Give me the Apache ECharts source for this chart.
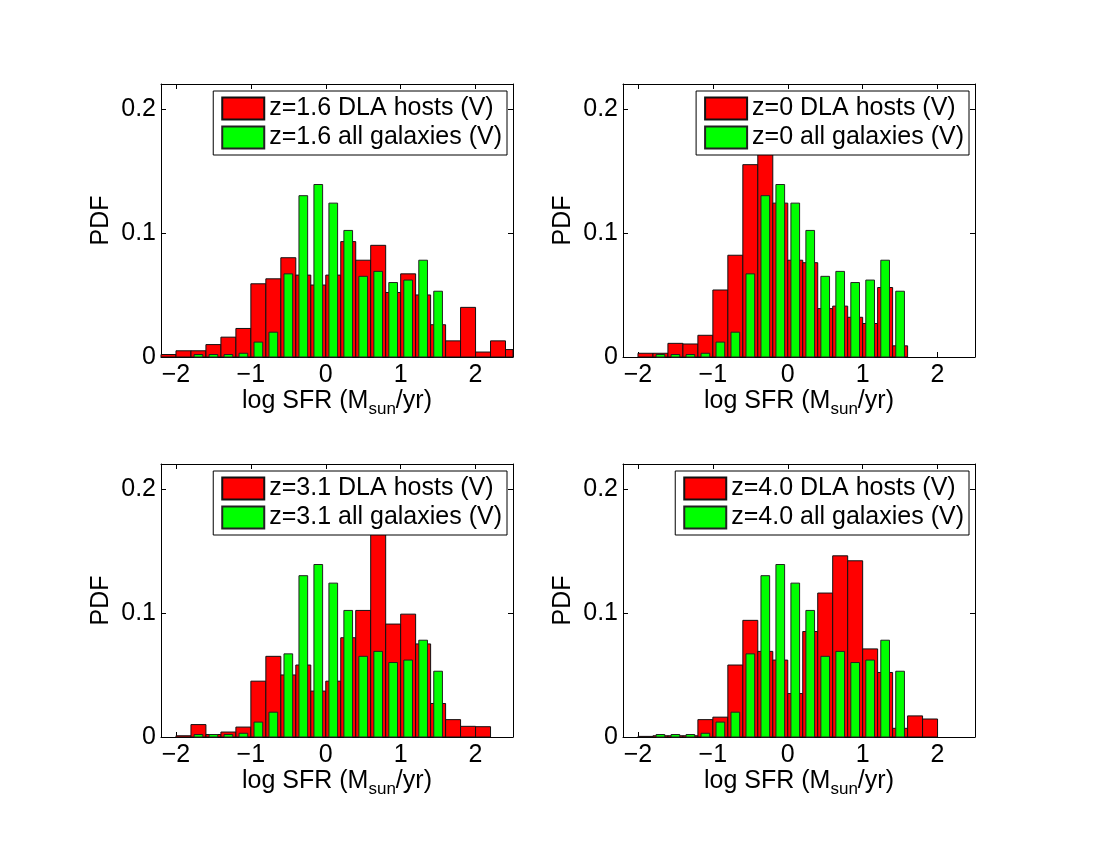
<!DOCTYPE html>
<html>
<head>
<meta charset="utf-8">
<script src="https://cdn.jsdelivr.net/npm/echarts@6/dist/echarts.min.js"></script>
<style>
  html, body { margin: 0; padding: 0; background: #fff; }
  #main { width: 1100px; height: 850px; }
</style>
</head>
<body>
<div id="main"></div>
<script>
/* 直方图数据: bin 中心 (log SFR) */
var binCenters = [-2.1, -1.9, -1.7, -1.5, -1.3, -1.1, -0.9, -0.7, -0.5, -0.3, -0.1,
                  0.1, 0.3, 0.5, 0.7, 0.9, 1.1, 1.3, 1.5, 1.7, 1.9, 2.1, 2.3, 2.5];

// DLA hosts (red)
var hostsZ16 = [0.002, 0.005, 0.005, 0.010, 0.016, 0.023, 0.059, 0.063, 0.080, 0.066, 0.058,
                0.066, 0.093, 0.078, 0.090, 0.052, 0.067, 0.050, 0.026, 0.013, 0.040, 0.004, 0.013, 0.006];
var hostsZ0  = [0, 0.003, 0.003, 0.011, 0.0105, 0.0175, 0.054, 0.082, 0.155, 0.175, 0.124,
                0.078, 0.076, 0.039, 0.041, 0.032, 0.027, 0.056, 0.009, 0, 0, 0, 0, 0];
var hostsZ31 = [0, 0.001, 0.010, 0.002, 0.004, 0.008, 0.045, 0.065, 0.050, 0.058, 0.037,
                0.045, 0.080, 0.102, 0.170, 0.091, 0.099, 0.075, 0.027, 0.014, 0.0086, 0.0083, 0, 0];
var hostsZ40 = [0, 0.0005, 0.001, 0.001, 0.001, 0.014, 0.016, 0.058, 0.094, 0.069, 0.062,
                0.035, 0.085, 0.116, 0.146, 0.142, 0.071, 0.052, 0.007, 0.017, 0.0145, 0, 0, 0];

// all galaxies (green) - the same histogram in every panel
var allGalaxies = [0, 0, 0.002, 0.002, 0.002, 0.003, 0.012, 0.020, 0.067, 0.130, 0.139,
                   0.124, 0.102, 0.065, 0.069, 0.060, 0.062, 0.078, 0.053, 0, 0, 0, 0, 0];

var redshifts = ['1.6', '0', '3.1', '4.0'];
var hostsList = [hostsZ16, hostsZ0, hostsZ31, hostsZ40];

var xTicks = [-2, -1, 0, 1, 2];
var yTicks = [0, 0.1, 0.2];

var FONT = "'Liberation Sans', Arial, Helvetica, sans-serif";
var gridPos = [[161, 84], [623, 84], [161, 464], [623, 464]];
var GW = 352, GH = 273;

function pairs(vals) {
  var out = [];
  for (var i = 0; i < binCenters.length; i++) {
    if (vals[i] > 0) out.push([binCenters[i], vals[i]]);
  }
  return out;
}
function minusFmt(v) {
  return v < 0 ? '\u2212' + Math.abs(v) : String(v);
}

// histogram bar, width given in x units, clipped to the axes box
function barRenderer(halfWidth) {
  return function (params, api) {
    var x = api.value(0), y = api.value(1);
    var p0 = api.coord([x - halfWidth, 0]);
    var p1 = api.coord([x + halfWidth, y]);
    var cs = params.coordSys;
    var shape = echarts.graphic.clipRectByRect(
      { x: p0[0], y: p1[1], width: p1[0] - p0[0], height: p0[1] - p1[1] },
      { x: cs.x, y: cs.y, width: cs.width, height: cs.height }
    );
    if (!shape) return;
    return { type: 'rect', shape: shape, style: api.style() };
  };
}

var grids = [], xAxes = [], yAxes = [], series = [], legends = [];

for (var i = 0; i < 4; i++) {
  var hostName = 'z=' + redshifts[i] + ' DLA hosts (V)';
  var allName = 'z=' + redshifts[i] + ' all galaxies (V)';
  grids.push({ left: gridPos[i][0], top: gridPos[i][1], width: GW, height: GH });

  xAxes.push({
    type: 'value', gridIndex: i, position: 'bottom', min: -2.2, max: 2.5,
    axisLine: { onZero: false, lineStyle: { color: '#000', width: 1 } },
    axisTick: { inside: true, length: 5, customValues: xTicks, lineStyle: { color: '#000' } },
    axisLabel: { customValues: xTicks, formatter: minusFmt, fontSize: 25, color: '#000', fontFamily: FONT, margin: 6 },
    splitLine: { show: false },
    name: '{m|log SFR (M}{s|sun}{m|/yr)}',
    nameLocation: 'middle', nameGap: 26,
    nameTextStyle: {
      fontFamily: FONT, color: '#000',
      rich: {
        m: { fontSize: 25, fontFamily: FONT, color: '#000' },
        s: { fontSize: 17, fontFamily: FONT, color: '#000', padding: [16, 0, 0, 0] }
      }
    }
  });
  // top edge of the box: ticks only
  xAxes.push({
    type: 'value', gridIndex: i, position: 'top', min: -2.2, max: 2.5,
    axisLine: { onZero: false, lineStyle: { color: '#000', width: 1 } },
    axisTick: { inside: true, length: 5, customValues: xTicks, lineStyle: { color: '#000' } },
    axisLabel: { show: false },
    splitLine: { show: false }
  });
  yAxes.push({
    type: 'value', gridIndex: i, position: 'left', min: 0, max: 0.22,
    axisLine: { show: true, onZero: false, lineStyle: { color: '#000', width: 1 } },
    axisTick: { show: true, inside: true, length: 5, customValues: yTicks, lineStyle: { color: '#000' } },
    axisLabel: { customValues: yTicks, fontSize: 25, color: '#000', fontFamily: FONT, margin: 5 },
    splitLine: { show: false },
    name: 'PDF', nameLocation: 'middle', nameGap: 47,
    nameTextStyle: { fontSize: 25, color: '#000', fontFamily: FONT }
  });
  yAxes.push({
    type: 'value', gridIndex: i, position: 'right', min: 0, max: 0.22,
    axisLine: { show: true, onZero: false, lineStyle: { color: '#000', width: 1 } },
    axisTick: { show: true, inside: true, length: 5, customValues: yTicks, lineStyle: { color: '#000' } },
    axisLabel: { show: false },
    splitLine: { show: false }
  });

  series.push({
    name: hostName, type: 'custom', xAxisIndex: 2 * i, yAxisIndex: 2 * i,
    renderItem: barRenderer(0.1),
    itemStyle: { color: '#ff0000', borderColor: '#111', borderWidth: 1 },
    encode: { x: 0, y: 1 },
    data: pairs(hostsList[i])
  });
  series.push({
    name: allName, type: 'custom', xAxisIndex: 2 * i, yAxisIndex: 2 * i,
    renderItem: barRenderer(0.058),
    itemStyle: { color: '#00ff00', borderColor: '#222', borderWidth: 1 },
    encode: { x: 0, y: 1 },
    data: pairs(allGalaxies)
  });

  legends.push({
    data: [hostName, allName],
    orient: 'vertical', icon: 'rect',
    right: 1100 - (gridPos[i][0] + GW) + 6, top: gridPos[i][1] + 7,
    itemWidth: 42, itemHeight: 22, itemGap: 4,
    padding: [5, 5, 5, 8],
    borderColor: '#000', borderWidth: 1, backgroundColor: '#fff',
    selectedMode: false, z: 10,
    textStyle: { fontSize: 25, color: '#000', fontFamily: FONT }
  });
}

var chart = echarts.init(document.getElementById('main'), null, { renderer: 'canvas' });
chart.setOption({
  backgroundColor: '#fff',
  animation: false,
  grid: grids,
  xAxis: xAxes,
  yAxis: yAxes,
  legend: legends,
  series: series
});
</script>
</body>
</html>
